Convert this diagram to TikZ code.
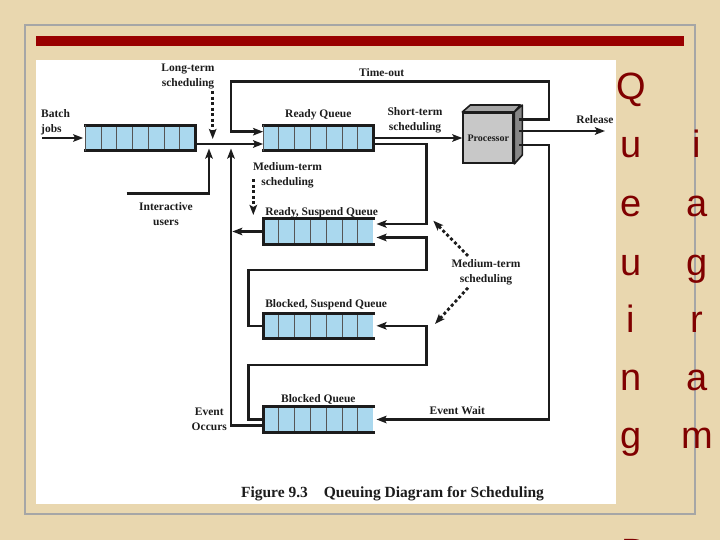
\documentclass[tikz,border=0pt]{standalone}
\usepackage{fontspec}
\setmainfont{Liberation Serif}
\newfontfamily\slidefont{Liberation Sans}
\usetikzlibrary{calc,arrows.meta}

\definecolor{parchment}{RGB}{233,215,175}
\definecolor{barred}{RGB}{153,0,0}
\definecolor{titlered}{RGB}{128,0,0}
\definecolor{qblue}{RGB}{170,216,238}
\definecolor{ink}{RGB}{28,28,28}
\definecolor{procfront}{RGB}{200,200,200}
\definecolor{proctop}{RGB}{165,165,165}
\definecolor{procside}{RGB}{135,135,135}

\begin{document}
\begin{tikzpicture}[x=1pt,y=-1pt,>={Stealth[length=10pt,width=7.5pt,inset=2pt]},
    lbl/.style={font=\fontsize{11.5}{15}\selectfont\bfseries,text=ink,inner sep=0pt,align=center},
    queue/.style={minimum width=110pt,minimum height=25pt,inner sep=0pt,fill=qblue},
    qedge/.style={ink,line width=2.8pt,line cap=rect},
    cell/.style={ink!75,line width=0.9pt},
    flow/.style={ink,line width=2.6pt},
    sched/.style={ink,line width=2.8pt,dash pattern=on 3pt off 2.5pt},
    letter/.style={font=\slidefont\fontsize{38}{38}\selectfont,text=titlered,anchor=base,inner sep=0pt}]

    \useasboundingbox (0,0) rectangle (720,540);
    \fill[parchment] (0,0) rectangle (720,540);
    \draw[gray!70,line width=2pt] (24.5,25) rectangle (695,514);
    \fill[barred] (36,36) rectangle (684,45.7);
    \fill[white] (36,60) rectangle (615.7,504);

    \node[queue] (batch) at (140.4,138) {};
    \node[queue] (ready) at (318.3,138) {};
    \node[queue] (rsus)  at (318.3,231.5) {};
    \node[queue] (bsus)  at (318.3,325.8) {};
    \node[queue] (blk)   at (318.3,419.5) {};

    \foreach \q in {batch,ready,rsus,bsus,blk} {
      \foreach \i in {1,...,6}
        \draw[cell] ($(\q.north west)!\i/7!(\q.north east)$) -- ($(\q.south west)!\i/7!(\q.south east)$);
      \draw[qedge] (\q.north west) -- (\q.north east) (\q.south west) -- (\q.south east);
    }
    \foreach \q/\s in {batch/east,ready/east,rsus/west,bsus/west,blk/west}
      \draw[qedge] (\q.north \s) -- (\q.south \s);
    \foreach \q in {batch,ready}
      \draw[cell] (\q.north west) -- (\q.south west);

    \node[draw=ink,line width=2pt,fill=procfront,minimum size=50pt,inner sep=0pt,
          font=\fontsize{10}{12}\selectfont\bfseries,text=ink] (proc) at (488.3,138) {Processor};
    \draw[ink,line width=1.6pt,fill=proctop,line join=round] (proc.north west) -- ++(8,-7) -- ++(50,0) -- (proc.north east) -- cycle;
    \draw[ink,line width=1.6pt,fill=procside,line join=round] (proc.north east) -- ++(8,-7) -- ++(0,50) -- (proc.south east) -- cycle;

    \node[lbl] (lts) at (188,77) {Long-term\\scheduling};
    \node[lbl,align=left,anchor=west] (jobs) at (41,122.5) {Batch\\jobs};
    \node[lbl] (users) at (166,214.2) {Interactive\\users};
    \node[lbl] (timeout) at (381.7,72.7) {Time-out};
    \node[lbl,anchor=base] (readylbl) at ($(ready.north)+(0,-7.5)$) {Ready Queue};
    \node[lbl] (sts) at (415,120.5) {Short-term\\scheduling};
    \node[lbl] (rellbl) at (595,120) {Release};
    \node[lbl] (mts) at (287.5,175.5) {Medium-term\\scheduling};
    \node[lbl,anchor=base west] (rsuslbl) at ($(rsus.north west)+(2,-3.5)$) {Ready, Suspend Queue};
    \node[lbl] (mts2) at (486,271.8) {Medium-term\\scheduling};
    \node[lbl,anchor=base west] (bsuslbl) at ($(bsus.north west)+(2,-6)$) {Blocked, Suspend Queue};
    \node[lbl,anchor=base] (blklbl) at ($(blk.north)+(0,-4)$) {Blocked Queue};
    \node[lbl] (ewait) at (457.3,411) {Event Wait};
    \node[lbl] (eocc) at (209.3,419.7) {Event\\Occurs};
    \node[font=\fontsize{15.5}{18}\selectfont\bfseries,text=ink] (caption) at (392.5,494)
      {Figure 9.3\hspace{16pt}Queuing Diagram for Scheduling};

    \coordinate (jobsin) at (42,138);
    \coordinate (ltend)  at (212.7,139);
    \coordinate (inter)  at (126.7,193.3);
    \coordinate (iu)     at (209,148.5);
    \coordinate (eo)     at (231,148.5);
    \coordinate (topy)   at (231,81.7);
    \coordinate (rx)     at (549,81.7);
    \coordinate (mx)     at (426.7,270);
    \coordinate (up1)    at (248.3,270);
    \coordinate (up2)    at (248.3,365);
    \coordinate (relend) at (605,131);
    \coordinate (mtend)  at (253.3,215);
    \coordinate (mtup)   at (433.3,220.7);
    \coordinate (mtdn)   at (435,324);

    \path (jobsin)                       edge[flow,->,shorten >=2pt] (batch.west)
          ($(batch.east)+(0,6)$)         edge[flow,->]               ($(ready.west)+(0,6)$)
          (ready.east)                   edge[flow,->]               (proc.west)
          ($(proc.east)+(5,-7)$)         edge[flow,->]               (relend)
          (rsus.west)                    edge[flow,->,shorten >=1.3pt] (rsus.west -| eo);

    \draw[flow,->] (inter) -| (iu);
    \draw[flow,->] ($(blk.west)+(0,6)$) -| (eo);
    \draw[flow,->] ($(proc.east)+(5,-18.7)$) -| (rx) -- (topy) |- ($(ready.west)+(0,-6.3)$);
    \draw[flow,->,shorten >=3pt] ($(proc.east)+(5,7)$) -| (blk.east -| rx) -- (blk.east);
    \draw[flow,->,shorten >=3pt] ($(ready.east)+(0,6)$) -| ($(rsus.east -| mx)+(0,-7.5)$) -- ($(rsus.east)+(0,-7.5)$);
    \draw[flow,->,shorten >=3pt] (bsus.west) -| (up1) -- (up1 -| mx) |- ($(rsus.east)+(0,6)$);
    \draw[flow,->,shorten >=3pt] (blk.west) -| (up2) -- (up2 -| mx) |- (bsus.east);

    \draw[sched,->] ($(ltend |- lts.south)+(0,1.5)$) -- (ltend);
    \draw[sched,->] ($(mtend |- mts.south)+(0,-9)$) -- (mtend);
    \draw[sched,->] ($(mts2.north)+(-18,-3)$) -- (mtup);
    \draw[sched,->] ($(mts2.south)+(-18,3)$) -- (mtdn);

    \foreach \ch/\x/\y [count=\i] in {Q/631/100,u/631/158,e/631/217,u/631/275,i/631/332,n/631/390,g/631/448,D/635/565,
                                      i/697/158,a/697/217,g/697/275,r/697/332,a/697/390,m/697/448}
      \node[letter] (ltr\i) at (\x,\y) {\ch};
\end{tikzpicture}
\end{document}
